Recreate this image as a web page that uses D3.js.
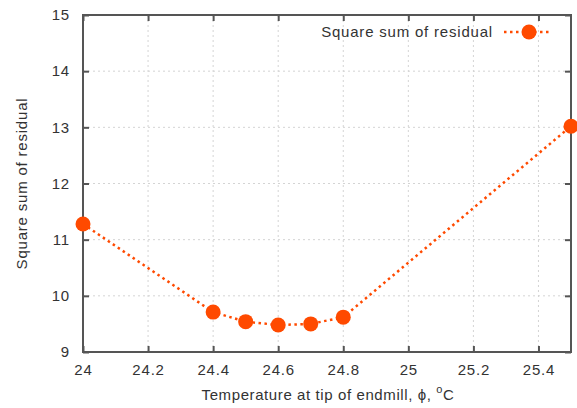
<!DOCTYPE html>
<html>
<head>
<meta charset="utf-8">
<script src="https://cdn.jsdelivr.net/npm/d3@7"></script>
<style>
  html, body { margin: 0; padding: 0; background: #fff; }
  svg { display: block; }
  text { font-family: "Liberation Sans", Arial, Helvetica, sans-serif; fill: #333; }
</style>
</head>
<body>
<svg id="chart" width="577" height="408"></svg>
<script>
// Temperature at the endmill tip (°C) and the square sum of residuals
const temperatures = [24.0, 24.4, 24.5, 24.6, 24.7, 24.8, 25.5];
const residuals    = [11.28, 9.71, 9.54, 9.48, 9.50, 9.62, 13.02];

const xTicks = [24, 24.2, 24.4, 24.6, 24.8, 25, 25.2, 25.4];
const yTicks = [9, 10, 11, 12, 13, 14, 15];

const seriesName = "Square sum of residual";
const lineColor = "#ff4a00";

const W = 577, H = 408;
const margin = { left: 83, right: 6, top: 15, bottom: 56 };
const svg = d3.select("#chart");

const x = d3.scaleLinear().domain([24, 25.5]).range([margin.left, W - margin.right]);
const y = d3.scaleLinear().domain([9, 15]).range([H - margin.bottom, margin.top]);

const x0 = x.range()[0], x1 = x.range()[1];
const y0 = y.range()[0], y1 = y.range()[1];

// dotted grid
const grid = svg.append("g").attr("stroke", "#d4d4d4").attr("stroke-width", 1)
  .attr("stroke-dasharray", "2,3");
grid.selectAll("line.gx").data(xTicks.filter(t => t > 24)).join("line")
  .attr("x1", d => x(d)).attr("x2", d => x(d)).attr("y1", y0).attr("y2", y1);
grid.selectAll("line.gy").data(yTicks.filter(t => t > 9 && t < 15)).join("line")
  .attr("class", "gy")
  .attr("y1", d => y(d)).attr("y2", d => y(d)).attr("x1", x0).attr("x2", x1);

// axes with inward ticks, mirrored on top and right
const tickLen = 6;
const fmt = d3.format("~g");
const axisStyle = g => {
  g.select(".domain").remove();
  g.selectAll(".tick line").attr("stroke", "#555").attr("stroke-width", 2);
  g.selectAll(".tick text").attr("fill", "#333").style("font-size", "15px")
    .style("letter-spacing", "0.8px");
};

svg.append("g").attr("transform", `translate(0,${y0})`)
  .call(d3.axisBottom(x).tickValues(xTicks).tickFormat(fmt).tickSizeInner(-tickLen).tickSizeOuter(0).tickPadding(12))
  .call(axisStyle);
svg.append("g").attr("transform", `translate(0,${y1})`)
  .call(d3.axisTop(x).tickValues(xTicks).tickFormat("").tickSizeInner(-tickLen).tickSizeOuter(0))
  .call(axisStyle);
svg.append("g").attr("transform", `translate(${x0},0)`)
  .call(d3.axisLeft(y).tickValues(yTicks).tickFormat(fmt).tickSizeInner(-tickLen).tickSizeOuter(0).tickPadding(13))
  .call(axisStyle);
svg.append("g").attr("transform", `translate(${x1},0)`)
  .call(d3.axisRight(y).tickValues(yTicks).tickFormat("").tickSizeInner(-tickLen).tickSizeOuter(0))
  .call(axisStyle);

// plot border
svg.append("rect")
  .attr("x", x0).attr("y", y1).attr("width", x1 - x0).attr("height", y0 - y1)
  .attr("fill", "none").attr("stroke", "#555").attr("stroke-width", 2);

// data line and markers
const data = temperatures.map((t, i) => ({ t, r: residuals[i] }));
const line = d3.line().x(d => x(d.t)).y(d => y(d.r));
svg.append("path").datum(data)
  .attr("d", line).attr("fill", "none")
  .attr("stroke", lineColor).attr("stroke-width", 2.5)
  .attr("stroke-dasharray", "2.5,3.5");
svg.append("g").selectAll("circle").data(data).join("circle")
  .attr("cx", d => x(d.t)).attr("cy", d => y(d.r)).attr("r", 7.5)
  .attr("fill", lineColor);

// legend
const lg = svg.append("g");
lg.append("text").attr("x", 493).attr("y", 37).attr("text-anchor", "end")
  .style("font-size", "15px").style("letter-spacing", "0.8px").text(seriesName);
lg.append("line").attr("x1", 504).attr("x2", 551).attr("y1", 32).attr("y2", 32)
  .attr("stroke", lineColor).attr("stroke-width", 2.5).attr("stroke-dasharray", "2.5,3.5");
lg.append("circle").attr("cx", 529).attr("cy", 32).attr("r", 7.5).attr("fill", lineColor);

// axis titles
svg.append("text")
  .attr("transform", `translate(27,${(y0 + y1) / 2}) rotate(-90)`)
  .attr("text-anchor", "middle")
  .style("font-size", "15px").style("letter-spacing", "0.8px")
  .text(seriesName);

const xt = svg.append("text").attr("x", (x0 + x1) / 2 + 1).attr("y", 400)
  .attr("text-anchor", "middle")
  .style("font-size", "15px").style("letter-spacing", "0.6px");
xt.append("tspan").text("Temperature at tip of endmill, ϕ, ");
xt.append("tspan").attr("dy", -7).style("font-size", "11px").text("o");
xt.append("tspan").attr("dy", 7).text("C");
</script>
</body>
</html>
